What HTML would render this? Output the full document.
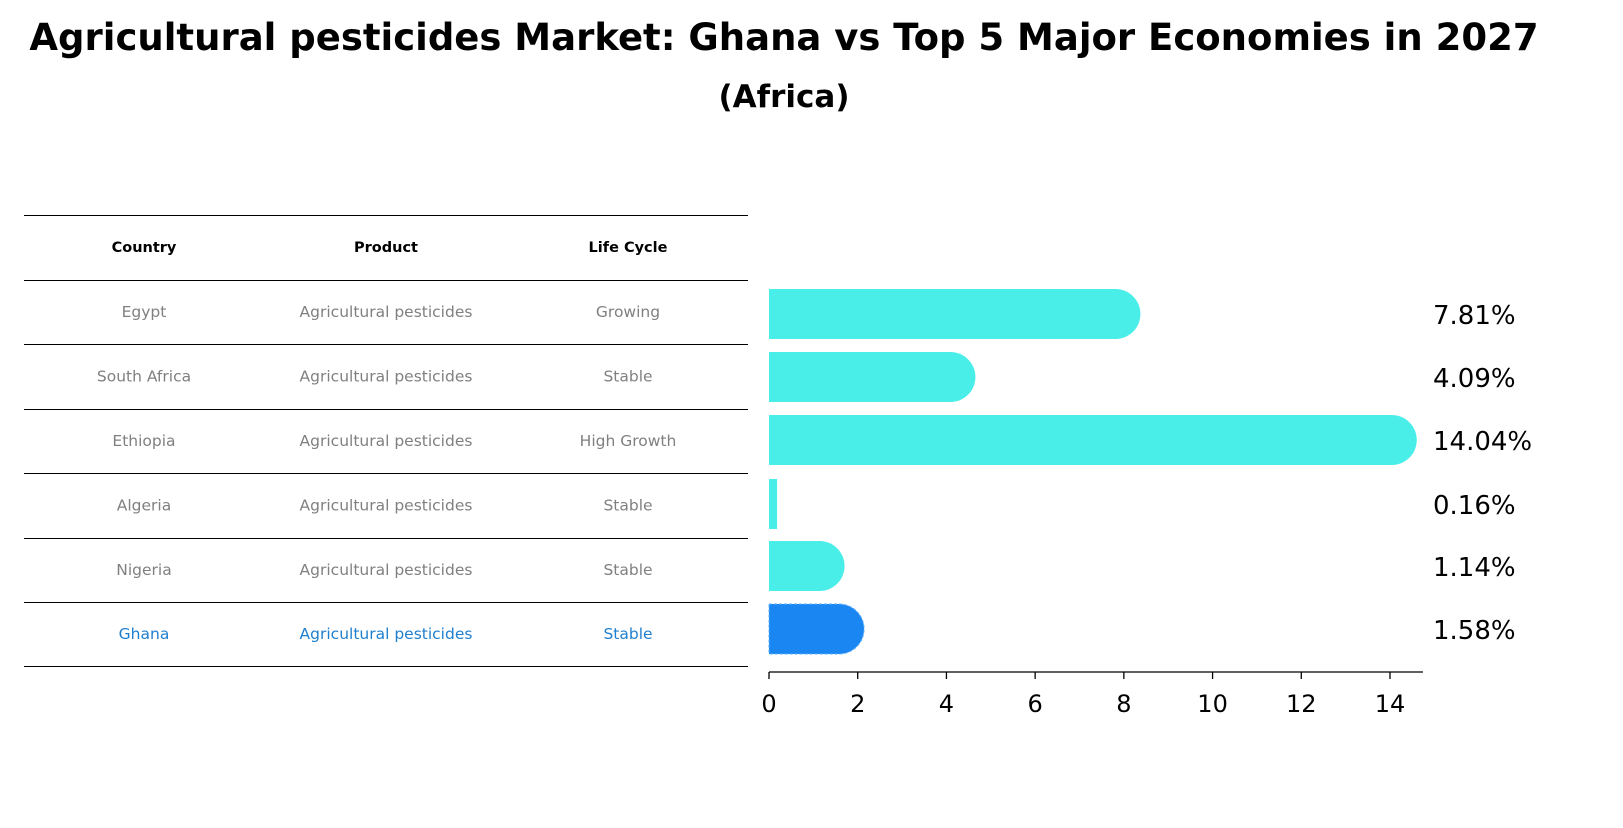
<!DOCTYPE html>
<html><head><meta charset="utf-8"><style>
body{margin:0;background:#fff;font-family:"Liberation Sans","DejaVu Sans",sans-serif}
</style></head><body>
<svg width="1623" height="823" viewBox="0 0 1623 823" xmlns="http://www.w3.org/2000/svg">
<text x="784" y="50" text-anchor="middle" font-size="37" font-weight="bold" font-family="DejaVu Sans, sans-serif">Agricultural pesticides Market: Ghana vs Top 5 Major Economies in 2027</text>
<text x="784" y="107" text-anchor="middle" font-size="31" font-weight="bold" font-family="DejaVu Sans, sans-serif">(Africa)</text>
<g id="table"></g>
<g id="bars"></g>
</svg>
<script>
const countries=["Egypt","South Africa","Ethiopia","Algeria","Nigeria","Ghana"];
const products=["Agricultural pesticides","Agricultural pesticides","Agricultural pesticides","Agricultural pesticides","Agricultural pesticides","Agricultural pesticides"];
const lifeCycles=["Growing","Stable","High Growth","Stable","Stable","Stable"];
const values=[7.81,4.09,14.04,0.16,1.14,1.58];
const valueLabels=["7.81%","4.09%","14.04%","0.16%","1.14%","1.58%"];
const ticks=[0,2,4,6,8,10,12,14];
const NS="http://www.w3.org/2000/svg";
function mk(t,a,p){const e=document.createElementNS(NS,t);for(const k in a)e.setAttribute(k,a[k]);p.appendChild(e);return e;}
const tb=document.getElementById('table'),bg=document.getElementById('bars');
const lineY=[215,280,344,409,473,538,602,666];
lineY.forEach(y=>{const l=mk('line',{x1:24,x2:748,y1:y+0.5,y2:y+0.5,stroke:'#000','stroke-width':1},tb);

});
const cx=[144,386,628];
["Country","Product","Life Cycle"].forEach((h,i)=>{const t=mk('text',{x:cx[i],y:252,'text-anchor':'middle','font-size':14.5,'font-weight':'bold','font-family':'DejaVu Sans, sans-serif'},tb);t.textContent=h;

});
countries.forEach((c,r)=>{const y=(lineY[r+1]+lineY[r+2])/2+5;const col=c==="Ghana"?"#1f7fcf":"#808080";
[c,products[r],lifeCycles[r]].forEach((v,i)=>{const t=mk('text',{x:cx[i],y:y,'text-anchor':'middle','font-size':15.5,fill:col,'font-family':'DejaVu Sans, sans-serif'},tb);t.textContent=v;

});});
const x0=769,scale=(1390-769)/14;const X=v=>x0+v*scale;
const centers=[314,377,440,504,566,629],h=50,rad=25;
values.forEach((v,i)=>{const xe=X(v),yt=centers[i]-h/2,yb=centers[i]+h/2;let d;
if(v>0.5){d=`M${x0},${yt}H${xe}A${rad},${rad} 0 0 1 ${xe},${yb}H${x0}Z`;}else{d=`M${x0},${yt}H${xe+1}V${yb}H${x0}Z`;}
const isG=countries[i]==="Ghana";
const p=mk('path',{d:d,fill:isG?'#1a86f2':'#4aeee9'},bg);
if(isG){p.setAttribute('stroke','#5ab0ff');p.setAttribute('stroke-dasharray','3,2');}


const t=mk('text',{x:1433,y:centers[i]+10,'font-size':26,'font-family':'DejaVu Sans, sans-serif'},bg);t.textContent=valueLabels[i];

});
const ax=mk('line',{x1:x0,x2:1423,y1:672,y2:672,stroke:'#000','stroke-width':1.3},bg);


ticks.forEach(tv=>{const l=mk('line',{x1:X(tv),x2:X(tv),y1:672,y2:679,stroke:'#000','stroke-width':1.3},bg);


const t=mk('text',{x:X(tv),y:712,'text-anchor':'middle','font-size':24,'font-family':'DejaVu Sans, sans-serif'},bg);t.textContent=tv;

});
</script>
</body></html>
